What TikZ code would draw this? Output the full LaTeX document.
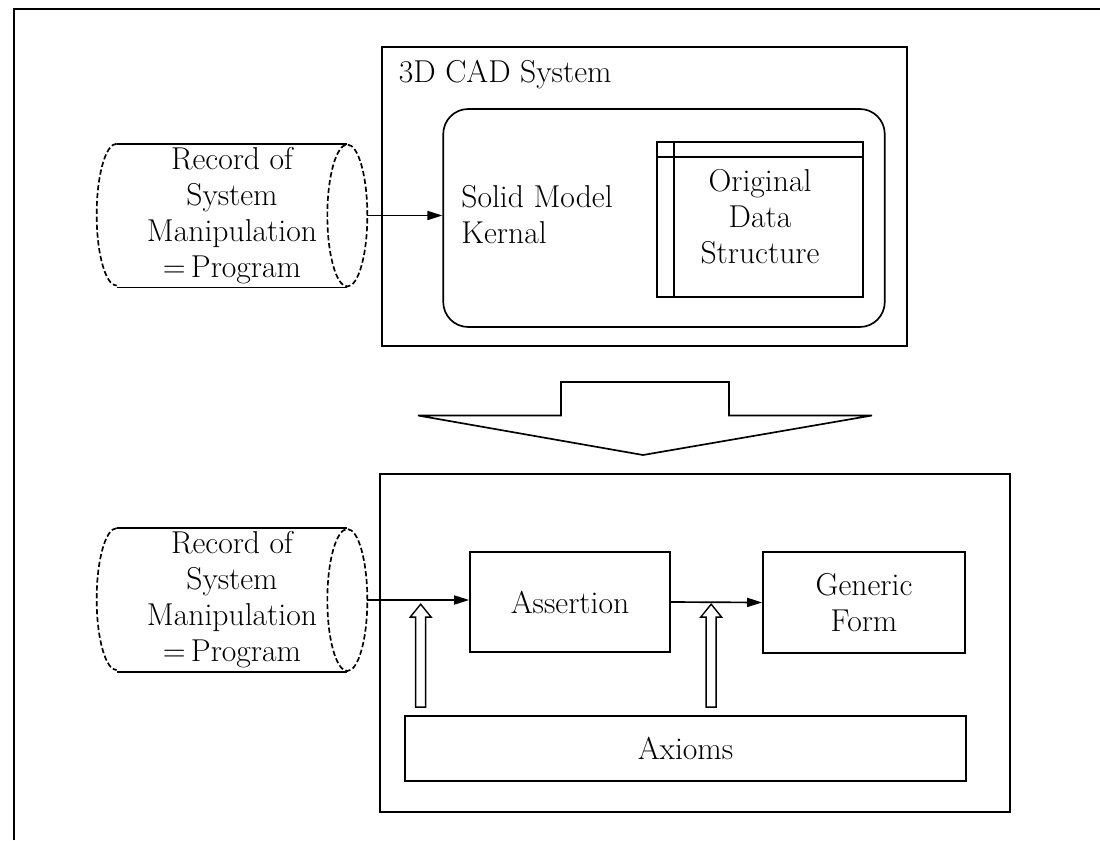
\documentclass[tikz,border=0pt]{standalone}
\usetikzlibrary{arrows.meta}

\begin{document}
\begin{tikzpicture}[
        line width=0.95pt,
        every node/.style={font=\fontsize{18}{20.5}\selectfont},
        box/.style={draw, inner sep=0pt, align=center},
        txt/.style={inner sep=0pt, align=center},
        cylarc/.style={dash pattern=on 3pt off 1.5pt},
        flow/.style={-{Triangle[length=0.3cm,width=0.18cm]}},
        hollow up/.pic={\draw[line width=0.8pt] (-0.1,0) -- (-0.1,1.8) -- (-0.21,1.8) -- (0,2.06) -- (0.21,1.8) -- (0.1,1.8) -- (0.1,0) -- cycle;}
    ]

        \useasboundingbox (0,0) rectangle (22,-16.8);
        \draw[line width=0.7pt] (0.28,-16.8) -- (0.28,-0.18) -- (22,-0.18);

        \node[box, minimum width=10.5cm, minimum height=5.98cm] (cad) at (12.89,-3.93) {};
        \node[anchor=base west, inner sep=0pt] (cadlabel) at (7.96,-1.64) {3D CAD System};
        \node[box, rounded corners=0.5cm, minimum width=8.83cm, minimum height=4.36cm] (kernel) at (13.28,-4.36) {};
        \node[txt, align=left, anchor=west] (kerneltext) at (9.21,-4.29) {Solid Model\\Kernal};
        \node[box, minimum width=4.12cm, minimum height=3.1cm] (data) at (15.2,-4.39) {};
        \draw ([yshift=-0.32cm]data.north west) -- ([yshift=-0.32cm]data.north east);
        \draw ([xshift=0.36cm]data.north west) -- ([xshift=0.36cm]data.south west);
        \node[txt] (datatext) at (15.2,-4.33) {Original\\Data\\Structure};

        \node[txt, minimum width=4.58cm, minimum height=2.84cm] (rec1) at (4.64,-4.31) {Record of\\System\\Manipulation\\=\,Program};
        \draw (rec1.north west) -- (rec1.north east) (rec1.south west) -- (rec1.south east);
        \draw[cylarc] (rec1.north west) arc[start angle=90, end angle=270, x radius=0.4cm, y radius=1.42cm];
        \draw[cylarc] (rec1.east) ellipse[x radius=0.4cm, y radius=1.42cm];
        \coordinate (rec1end) at ([xshift=0.4cm]rec1.east);
        \draw[flow] (rec1end) -- (rec1end -| kernel.west);

        \draw (8.36,-8.31) -- (11.22,-8.31) -- (11.22,-7.64) -- (14.58,-7.64) -- (14.58,-8.31) -- (17.44,-8.31) -- (12.86,-9.1) -- cycle;

        \node[box, minimum width=12.6cm, minimum height=6.76cm] (logic) at (13.9,-12.86) {};
        \node[txt, minimum width=4.58cm, minimum height=2.84cm] (rec2) at (4.64,-12.0) {Record of\\System\\Manipulation\\=\,Program};
        \draw (rec2.north west) -- (rec2.north east) (rec2.south west) -- (rec2.south east);
        \draw[cylarc] (rec2.north west) arc[start angle=90, end angle=270, x radius=0.4cm, y radius=1.42cm];
        \draw[cylarc] (rec2.east) ellipse[x radius=0.4cm, y radius=1.42cm];
        \coordinate (rec2end) at ([xshift=0.4cm]rec2.east);

        \node[box, minimum width=4cm, minimum height=2cm] (assert) at (11.4,-12.04) {Assertion};
        \node[box, minimum width=4.04cm, minimum height=2.02cm] (generic) at (17.28,-12.05) {Generic\\Form};
        \node[box, minimum width=11.22cm, minimum height=1.3cm] (axioms) at (13.71,-14.97) {Axioms};

        \draw[flow] (rec2end) -- (rec2end -| assert.west);
        \draw[flow] (assert.east) -- (generic.west);
        \pic at ([shift={(0.33,0.16)}]axioms.north west) {hollow up};
        \pic at ([shift={(6.14,0.16)}]axioms.north west) {hollow up};

\end{tikzpicture}
\end{document}
